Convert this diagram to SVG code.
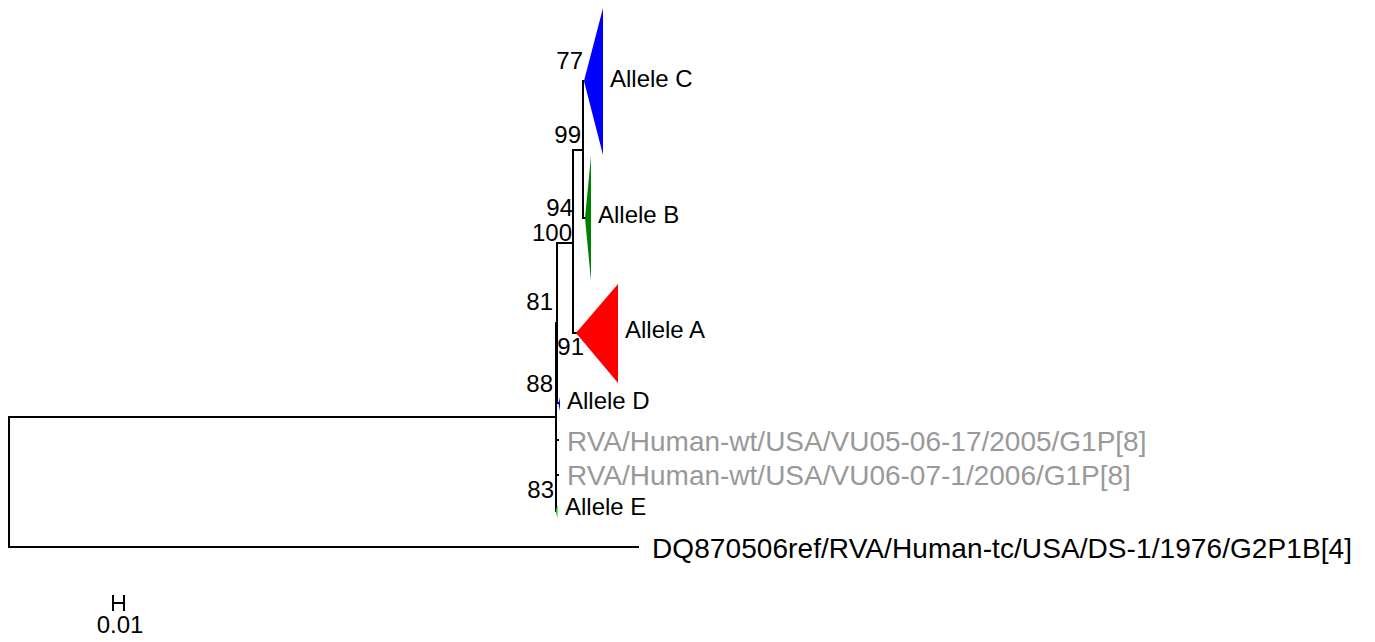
<svg xmlns="http://www.w3.org/2000/svg" width="1375" height="642" viewBox="0 0 1375 642">
  <style>
    .br { fill: none; stroke: #000; stroke-width: 2; stroke-linecap: square; }
    .lbl { font-family: "Liberation Sans", Arial, sans-serif; font-size: 24px; fill: #000; }
    .big { font-family: "Liberation Sans", Arial, sans-serif; font-size: 28px; fill: #000; }
    .grey { fill: #999999; }
    .sup { font-family: "Liberation Sans", Arial, sans-serif; font-size: 24px; fill: #000; text-anchor: end; }
  </style>
  <rect width="1375" height="642" fill="#fff"/>

  <!-- branches -->
  <g id="branches">
    <!-- root -->
    <path class="br" d="M556,417 H9 V547 H638"/>
    <!-- ingroup node -->
    <path class="br" d="M556,323 V511"/>
    <path class="br" d="M556,323 H557"/>
    <path class="br" d="M556,440 H558"/>
    <path class="br" d="M556,475 H558"/>
    <!-- node 81 -->
    <path class="br" d="M557,243 V403 H559"/>
    <!-- node 100 -->
    <path class="br" d="M557,243 H573"/>
    <path class="br" d="M573,150 V333 H576"/>
    <!-- node 99 -->
    <path class="br" d="M573,150 H583"/>
    <path class="br" d="M583,81 V218 H585"/>
  </g>

  <!-- collapsed clades -->
  <g id="clade-C"><polygon points="584,81 603,8 603,155" fill="#0000ff"/><text class="lbl" x="610" y="87">Allele C</text></g>
  <g id="clade-B"><polygon points="585,218 591,156 591,281" fill="#008000"/><text class="lbl" x="598" y="223">Allele B</text></g>
  <g id="clade-A"><polygon points="576,333 618,284 618,383" fill="#ff0000"/><text class="lbl" x="625" y="338">Allele A</text></g>
  <g id="clade-D"><polygon points="558.5,404 560,397 560,411" fill="#0000ff"/><text class="lbl" x="567" y="409">Allele D</text></g>
  <g id="clade-E"><polygon points="555.5,511 557.5,505 557.5,518" fill="#00cc00"/><text class="lbl" x="565" y="515">Allele E</text></g>

  <!-- leaves -->
  <g id="leaf-VU05"><text class="big grey" x="567" y="451">RVA/Human-wt/USA/VU05-06-17/2005/G1P[8]</text></g>
  <g id="leaf-VU06"><text class="big grey" x="567" y="485">RVA/Human-wt/USA/VU06-07-1/2006/G1P[8]</text></g>
  <g id="leaf-DS1"><text class="big" x="652" y="558" textLength="700">DQ870506ref/RVA/Human-tc/USA/DS-1/1976/G2P1B[4]</text></g>

  <!-- support values -->
  <g id="support">
    <text class="sup" x="583" y="69">77</text>
    <text class="sup" x="581" y="143">99</text>
    <text class="sup" x="573" y="216">94</text>
    <text class="sup" x="572" y="241">100</text>
    <text class="sup" x="553" y="310">81</text>
    <text class="sup" x="584" y="355">91</text>
    <text class="sup" x="553" y="392">88</text>
    <text class="sup" x="554" y="498">83</text>
  </g>

  <!-- scale bar -->
  <g id="scale">
    <path class="br" d="M113,603 H124 M113,596 V610 M124,596 V610" stroke-width="1.5"/>
    <text class="lbl" x="120" y="633" text-anchor="middle">0.01</text>
  </g>
</svg>
